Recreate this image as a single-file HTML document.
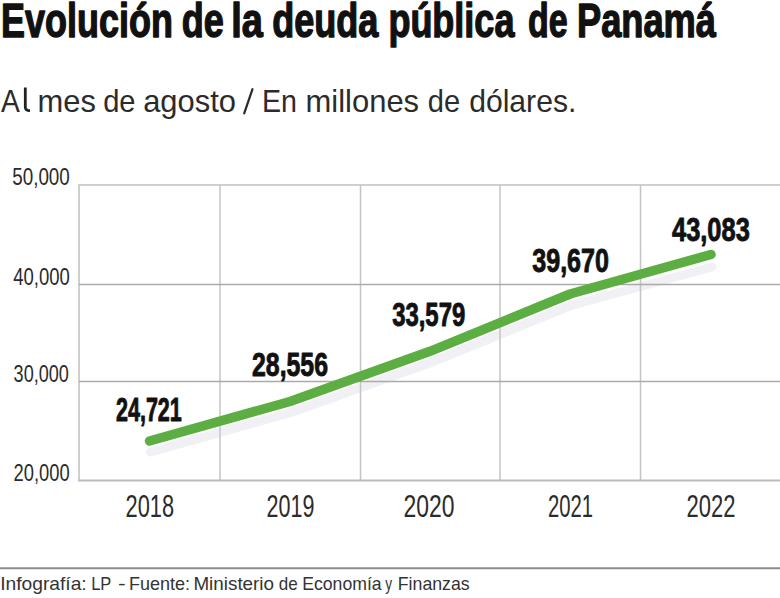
<!DOCTYPE html>
<html>
<head>
<meta charset="utf-8">
<style>
html,body{margin:0;padding:0;background:#fff;}
body{width:780px;height:598px;overflow:hidden;position:relative;}
svg{position:absolute;left:0;top:0;}
text{font-family:"Liberation Sans", sans-serif;}
</style>
</head>
<body>
<svg width="780" height="598" viewBox="0 0 780 598">
<polyline points="150.5,452 291,412.5 431,362.5 571,305.5 712,267" fill="none" stroke="#f1f0f5" stroke-width="9" stroke-linecap="round" stroke-linejoin="round"/>
<g fill="none">
<line x1="79" y1="185" x2="780" y2="185" stroke="#cfcfcf" stroke-width="2"/>
<line x1="79" y1="184" x2="79" y2="481" stroke="#cfcfcf" stroke-width="2"/>
<line x1="220" y1="185" x2="220" y2="480" stroke="#c4c4c4" stroke-width="1.5"/>
<line x1="360.5" y1="185" x2="360.5" y2="480" stroke="#c4c4c4" stroke-width="1.5"/>
<line x1="500" y1="185" x2="500" y2="480" stroke="#c4c4c4" stroke-width="1.5"/>
<line x1="640.5" y1="185" x2="640.5" y2="480" stroke="#c4c4c4" stroke-width="1.5"/>
<line x1="79" y1="284.5" x2="780" y2="284.5" stroke="#aaaaaa" stroke-width="1.5"/>
<line x1="79" y1="381.5" x2="780" y2="381.5" stroke="#aaaaaa" stroke-width="1.5"/>
<line x1="78" y1="480.5" x2="780" y2="480.5" stroke="#bcbcbc" stroke-width="2"/>
</g>
<polyline points="149.5,441 290,401.5 430,351.3 570,294 711,254.5" fill="none" stroke="#5dae42" stroke-width="9.5" stroke-linecap="round" stroke-linejoin="round"/>
<line x1="0" y1="568.3" x2="780" y2="568.3" stroke="#8c8c8c" stroke-width="2"/>
<path d="M25.3,87.6 L25.3,107.2 Q25.3,110.6 30,110.6" fill="none" stroke="#222" stroke-width="2.8" stroke-linecap="butt"/>
<line x1="252.5" y1="89.2" x2="244.2" y2="113.4" stroke="#2b2b2b" stroke-width="2.2" stroke-linecap="round"/>

<text x="1.00" y="37.1" font-size="48" font-weight="bold" fill="#111" stroke="#111" stroke-width="1.4" stroke-linejoin="round" textLength="171.85" lengthAdjust="spacingAndGlyphs">Evolución</text>
<text x="181.80" y="37.1" font-size="48" font-weight="bold" fill="#111" stroke="#111" stroke-width="1.4" stroke-linejoin="round" textLength="42.08" lengthAdjust="spacingAndGlyphs">de</text>
<text x="231.20" y="37.1" font-size="48" font-weight="bold" fill="#111" stroke="#111" stroke-width="1.4" stroke-linejoin="round" textLength="31.63" lengthAdjust="spacingAndGlyphs">la</text>
<text x="272.20" y="37.1" font-size="48" font-weight="bold" fill="#111" stroke="#111" stroke-width="1.4" stroke-linejoin="round" textLength="106.20" lengthAdjust="spacingAndGlyphs">deuda</text>
<text x="388.40" y="37.1" font-size="48" font-weight="bold" fill="#111" stroke="#111" stroke-width="1.4" stroke-linejoin="round" textLength="126.01" lengthAdjust="spacingAndGlyphs">pública</text>
<text x="528.00" y="37.1" font-size="48" font-weight="bold" fill="#111" stroke="#111" stroke-width="1.4" stroke-linejoin="round" textLength="39.65" lengthAdjust="spacingAndGlyphs">de</text>
<text x="577.00" y="37.1" font-size="48" font-weight="bold" fill="#111" stroke="#111" stroke-width="1.4" stroke-linejoin="round" textLength="139.00" lengthAdjust="spacingAndGlyphs">Panamá</text>
<text x="1.00" y="111.5" font-size="32" font-weight="normal" fill="#2b2b2b" textLength="18.82" lengthAdjust="spacingAndGlyphs">A</text>
<text x="37.60" y="111.5" font-size="32" font-weight="normal" fill="#2b2b2b" textLength="58.33" lengthAdjust="spacingAndGlyphs">mes</text>
<text x="103.20" y="111.5" font-size="32" font-weight="normal" fill="#2b2b2b" textLength="32.37" lengthAdjust="spacingAndGlyphs">de</text>
<text x="143.20" y="111.5" font-size="32" font-weight="normal" fill="#2b2b2b" textLength="92.69" lengthAdjust="spacingAndGlyphs">agosto</text>
<text x="262.00" y="111.5" font-size="32" font-weight="normal" fill="#2b2b2b" textLength="35.00" lengthAdjust="spacingAndGlyphs">En</text>
<text x="305.60" y="111.5" font-size="32" font-weight="normal" fill="#2b2b2b" textLength="113.47" lengthAdjust="spacingAndGlyphs">millones</text>
<text x="427.80" y="111.5" font-size="32" font-weight="normal" fill="#2b2b2b" textLength="32.37" lengthAdjust="spacingAndGlyphs">de</text>
<text x="469.20" y="111.5" font-size="32" font-weight="normal" fill="#2b2b2b" textLength="107.13" lengthAdjust="spacingAndGlyphs">dólares.</text>
<text x="12.20" y="185" font-size="23" font-weight="normal" fill="#2b2b2b" textLength="57.64" lengthAdjust="spacingAndGlyphs">50,000</text>
<text x="13.20" y="284.6" font-size="23" font-weight="normal" fill="#2b2b2b" textLength="56.62" lengthAdjust="spacingAndGlyphs">40,000</text>
<text x="13.60" y="381.7" font-size="23" font-weight="normal" fill="#2b2b2b" textLength="55.23" lengthAdjust="spacingAndGlyphs">30,000</text>
<text x="13.60" y="480.6" font-size="23" font-weight="normal" fill="#2b2b2b" textLength="56.08" lengthAdjust="spacingAndGlyphs">20,000</text>
<text x="125.60" y="517.3" font-size="31" font-weight="normal" fill="#2b2b2b" textLength="48.51" lengthAdjust="spacingAndGlyphs">2018</text>
<text x="266.60" y="517.3" font-size="31" font-weight="normal" fill="#2b2b2b" textLength="47.89" lengthAdjust="spacingAndGlyphs">2019</text>
<text x="403.60" y="517.3" font-size="31" font-weight="normal" fill="#2b2b2b" textLength="50.89" lengthAdjust="spacingAndGlyphs">2020</text>
<text x="548.00" y="517.3" font-size="31" font-weight="normal" fill="#2b2b2b" textLength="45.06" lengthAdjust="spacingAndGlyphs">2021</text>
<text x="686.60" y="517.3" font-size="31" font-weight="normal" fill="#2b2b2b" textLength="48.89" lengthAdjust="spacingAndGlyphs">2022</text>
<text x="116.00" y="421.2" font-size="33" font-weight="bold" fill="#111" stroke="#111" stroke-width="0.9" stroke-linejoin="round" textLength="65.80" lengthAdjust="spacingAndGlyphs">24,721</text>
<text x="252.00" y="375.8" font-size="33" font-weight="bold" fill="#111" stroke="#111" stroke-width="0.9" stroke-linejoin="round" textLength="76.01" lengthAdjust="spacingAndGlyphs">28,556</text>
<text x="392.20" y="325.9" font-size="33" font-weight="bold" fill="#111" stroke="#111" stroke-width="0.9" stroke-linejoin="round" textLength="73.01" lengthAdjust="spacingAndGlyphs">33,579</text>
<text x="532.20" y="272" font-size="33" font-weight="bold" fill="#111" stroke="#111" stroke-width="0.9" stroke-linejoin="round" textLength="76.82" lengthAdjust="spacingAndGlyphs">39,670</text>
<text x="672.00" y="241" font-size="33" font-weight="bold" fill="#111" stroke="#111" stroke-width="0.9" stroke-linejoin="round" textLength="77.81" lengthAdjust="spacingAndGlyphs">43,083</text>
<text x="0.20" y="589.8" font-size="18.5" font-weight="normal" fill="#333" textLength="86.53" lengthAdjust="spacingAndGlyphs">Infografía:</text>
<text x="91.20" y="589.8" font-size="18.5" font-weight="normal" fill="#333" textLength="20.15" lengthAdjust="spacingAndGlyphs">LP</text>
<text x="118.00" y="589.8" font-size="18.5" font-weight="normal" fill="#333" textLength="7.69" lengthAdjust="spacingAndGlyphs">-</text>
<text x="129.00" y="589.8" font-size="18.5" font-weight="normal" fill="#333" textLength="61.12" lengthAdjust="spacingAndGlyphs">Fuente:</text>
<text x="193.40" y="589.8" font-size="18.5" font-weight="normal" fill="#333" textLength="80.67" lengthAdjust="spacingAndGlyphs">Ministerio</text>
<text x="278.80" y="589.8" font-size="18.5" font-weight="normal" fill="#333" textLength="18.93" lengthAdjust="spacingAndGlyphs">de</text>
<text x="302.20" y="589.8" font-size="18.5" font-weight="normal" fill="#333" textLength="79.42" lengthAdjust="spacingAndGlyphs">Economía</text>
<text x="385.20" y="589.8" font-size="18.5" font-weight="normal" fill="#333" textLength="6.85" lengthAdjust="spacingAndGlyphs">y</text>
<text x="397.80" y="589.8" font-size="18.5" font-weight="normal" fill="#333" textLength="71.86" lengthAdjust="spacingAndGlyphs">Finanzas</text>
</svg>
</body>
</html>
